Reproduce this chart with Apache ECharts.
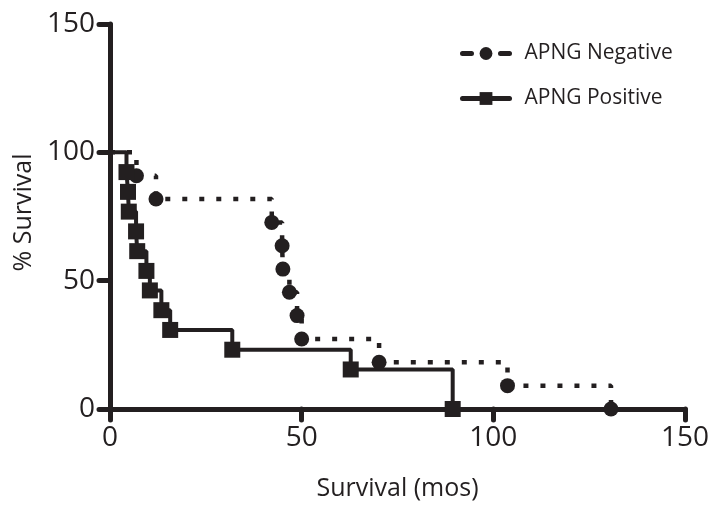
<!DOCTYPE html>
<html>
<head>
<meta charset="utf-8">
<script src="https://cdn.jsdelivr.net/npm/echarts@6/dist/echarts.min.js"></script>
<style>
  html, body { margin: 0; padding: 0; background: #fff; }
  #main { width: 712px; height: 511px; }
</style>
</head>
<body>
<div id="main"></div>
<script>
// survival data (time in months, % survival after each event)
var negTimes = [6.9, 12.0, 42.2, 44.9, 45.1, 46.8, 48.8, 50.0, 70.2, 103.7, 130.7];
var negSurv = [90.9, 81.8, 72.7, 63.6, 54.5, 45.5, 36.4, 27.3, 18.2, 9.1, 0];
var posTimes = [4.3, 4.7, 4.9, 6.8, 7.1, 9.5, 10.4, 13.4, 15.7, 31.9, 62.8, 89.4];
var posSurv = [92.3, 84.6, 76.9, 69.2, 61.5, 53.8, 46.2, 38.5, 30.8, 23.1, 15.4, 0];
var xTicks = [0, 50, 100, 150];
var yTicks = [0, 50, 100, 150];

var ink = '#231f20';
var font = 'Open Sans';

// KM curve: start at 100%, then one point per event, drawn as steps
function kmData (times, surv) {
  var d = [{ value: [0, 100], symbol: 'none' }];
  for (let i = 0; i < times.length; i++) {
    d.push([times[i], surv[i]]);
  }
  return d;
}

var myChart = echarts.init(document.getElementById('main'));

var axisCommon = {
  type: 'value',
  min: 0,
  max: 150,
  interval: 50,
  splitLine: { show: false },
  axisLine: { show: true, lineStyle: { color: ink, width: 5, cap: 'round' } },
  axisTick: { show: true, length: 11, lineStyle: { color: ink, width: 5, cap: 'round' } },
  axisLabel: { color: ink, fontFamily: font, fontSize: 28, margin: 15 },
  nameLocation: 'middle',
  nameTextStyle: { color: ink, fontFamily: font, fontSize: 25 }
};

option = {
  animation: false,
  backgroundColor: '#fff',
  grid: { left: 110, right: 25, top: 24, bottom: 102 },
  legend: {
    orient: 'vertical',
    left: 455,
    top: 38,
    itemWidth: 47,
    itemHeight: 16,
    itemGap: 24,
    lineStyle: { width: 5 },
    textStyle: { color: ink, fontFamily: font, fontSize: 21, padding: [0, 0, 0, 10] },
    data: [
      { name: 'APNG Negative', lineStyle: { width: 5, type: [9, 29], cap: 'round' } },
      { name: 'APNG Positive', lineStyle: { width: 5, cap: 'round' } }
    ]
  },
  xAxis: Object.assign({}, axisCommon, {
    name: 'Survival (mos)',
    nameGap: 67,
    axisLabel: Object.assign({}, axisCommon.axisLabel, {
      formatter: function (v) { return xTicks.indexOf(v) >= 0 ? String(v) : ''; }
    })
  }),
  yAxis: Object.assign({}, axisCommon, {
    name: '% Survival',
    nameGap: 72,
    nameTextStyle: Object.assign({}, axisCommon.nameTextStyle, { padding: [0, 0, 0, 8] }),
    axisLabel: Object.assign({}, axisCommon.axisLabel, {
      formatter: function (v) { return yTicks.indexOf(v) >= 0 ? String(v) : ''; }
    })
  }),
  series: [
    {
      name: 'APNG Negative',
      type: 'line',
      step: 'end',
      symbol: 'circle',
      symbolSize: 15,
      showAllSymbol: true,
      itemStyle: { color: ink },
      lineStyle: { color: ink, width: 4.5, type: [5, 12], cap: 'butt' },
      data: kmData(negTimes, negSurv)
    },
    {
      name: 'APNG Positive',
      type: 'line',
      step: 'end',
      symbol: 'rect',
      symbolSize: 16,
      showAllSymbol: true,
      itemStyle: { color: ink },
      lineStyle: { color: ink, width: 4 },
      data: kmData(posTimes, posSurv)
    }
  ]
};

myChart.setOption(option);
</script>
</body>
</html>
